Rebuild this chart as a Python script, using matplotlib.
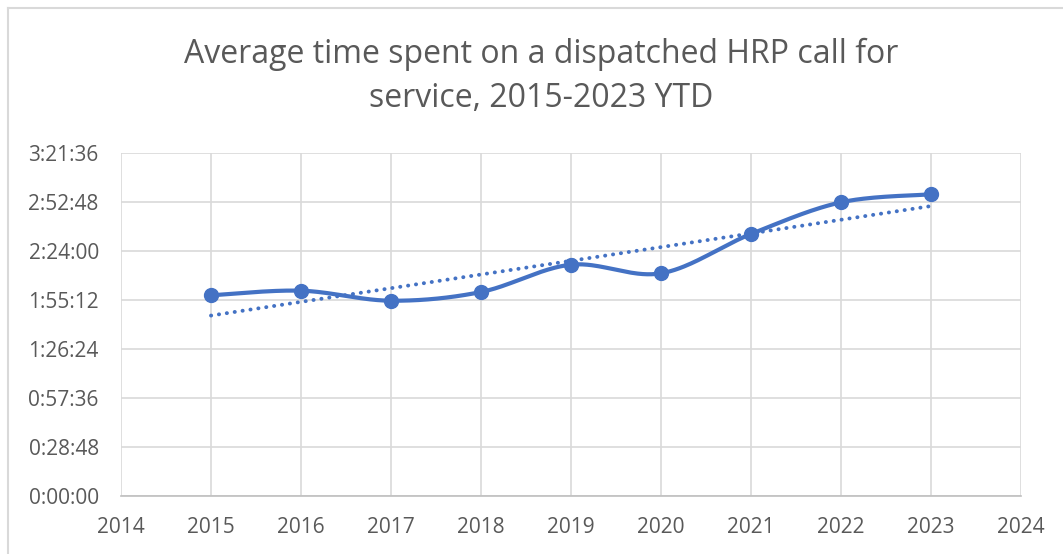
import matplotlib
matplotlib.use("Agg")
import matplotlib.pyplot as plt
import numpy as np
from matplotlib.ticker import FuncFormatter, MultipleLocator

plt.rcParams['font.family'] = ['Open Sans', 'DejaVu Sans']

years = [2015, 2016, 2017, 2018, 2019, 2020, 2021, 2022, 2023]
avg_time = ["1:58:04", "2:00:47", "1:54:53", "2:00:00", "2:16:04",
            "2:11:00", "2:34:08", "2:52:46", "2:57:29"]
title = "Average time spent on a dispatched HRP call for\nservice, 2015-2023 YTD"

def to_sec(s):
    h, m, sec = (int(v) for v in s.split(":"))
    return h * 3600 + m * 60 + sec

x = np.array(years, dtype=float)
y = np.array([to_sec(s) for s in avg_time], dtype=float)

# Excel-style smoothed line (Catmull-Rom Bezier)
def smooth(xs, ys, n=40):
    px = np.concatenate([[xs[0]], xs, [xs[-1]]])
    py = np.concatenate([[ys[0]], ys, [ys[-1]]])
    outx, outy = [], []
    t = np.linspace(0, 1, n)
    for i in range(1, len(px) - 2):
        p0 = np.array([px[i], py[i]])
        p3 = np.array([px[i + 1], py[i + 1]])
        c1 = p0 + (np.array([px[i + 1], py[i + 1]]) - np.array([px[i - 1], py[i - 1]])) / 6
        c2 = p3 - (np.array([px[i + 2], py[i + 2]]) - np.array([px[i], py[i]])) / 6
        b = ((1 - t) ** 3)[:, None] * p0 + (3 * (1 - t) ** 2 * t)[:, None] * c1 \
            + (3 * (1 - t) * t ** 2)[:, None] * c2 + (t ** 3)[:, None] * p3
        outx.extend(b[:, 0]); outy.extend(b[:, 1])
    return np.array(outx), np.array(outy)

W, H = 1063, 554
fig = plt.figure(figsize=(W / 100, H / 100), dpi=100)
ax = fig.add_axes([121 / W, 1 - 496 / H, 900 / W, (496 - 153.3) / H])

blue = "#4472C4"
grid = "#D9D9D9"
txt = "#595959"

sx, sy = smooth(x, y)
ax.plot(sx, sy, color=blue, lw=3.0, solid_capstyle="round", zorder=3)
ax.plot(x, y, "o", color=blue, ms=10, zorder=4)

coef = np.polyfit(x, y, 1)
ax.plot(x, np.polyval(coef, x), color=blue, lw=2.8, linestyle=(0, (0.05, 2.0)),
        dash_capstyle="round", zorder=2)

ax.set_xlim(2014, 2024)
ax.set_ylim(0, 12096)
ax.xaxis.set_major_locator(MultipleLocator(1))
ax.yaxis.set_major_locator(MultipleLocator(1728))

def fmt(v, pos):
    v = int(round(v))
    return f"{v // 3600}:{(v % 3600) // 60:02d}:{v % 60:02d}"

ax.yaxis.set_major_formatter(FuncFormatter(fmt))
ax.xaxis.set_major_formatter(FuncFormatter(lambda v, p: f"{int(round(v))}"))

ax.grid(True, color=grid, lw=1.2)
ax.set_axisbelow(True)
for s in ["top", "right", "left"]:
    ax.spines[s].set_visible(False)
ax.spines["bottom"].set_color("#BFBFBF")
ax.spines["bottom"].set_linewidth(1.2)
ax.tick_params(length=0, colors=txt, labelsize=15)
ax.tick_params(axis="y", pad=16)
ax.tick_params(axis="x", pad=15)

fig.text(541 / W, 1 - 38 / H, title, ha="center", va="top", fontsize=23,
         color=txt, linespacing=1.45)

# chart area border
fig.add_artist(plt.Line2D([8 / W, 1], [1 - 7.5 / H, 1 - 7.5 / H], color="#D9D9D9", lw=1.5,
                          transform=fig.transFigure))
fig.add_artist(plt.Line2D([8 / W, 8 / W], [0, 1 - 7.5 / H], color="#D9D9D9", lw=1.5,
                          transform=fig.transFigure))

fig.savefig("out.png", dpi=100)
